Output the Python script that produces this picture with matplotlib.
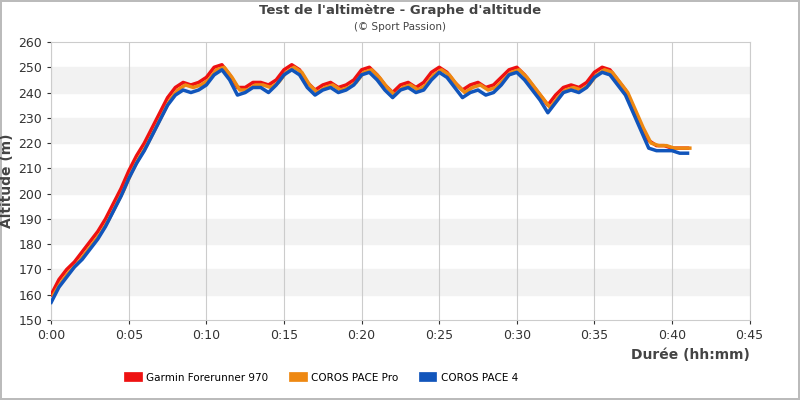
import matplotlib
matplotlib.use("Agg")
import matplotlib.pyplot as plt
import numpy as np

minutes = [i*0.5 for i in range(83)]
garmin = [160,166,170,173,177,181,185,190,196,202,209,215,220,226,232,238,242,244,243,244,246,250,251,247,242,242,244,244,243,245,249,251,249,244,241,243,244,242,243,245,249,250,247,243,240,243,244,242,244,248,250,248,244,241,243,244,242,243,246,249,250,247,243,239,235,239,242,243,242,244,248,250,249,245,241,234,227,221,219,219,218,218,218]
coros_pro = [160,165,169,172,176,180,184,189,195,201,208,214,219,225,231,237,241,243,242,243,245,249,250,246,241,241,243,243,242,244,248,250,248,243,240,242,243,241,242,244,248,249,246,242,239,242,243,241,243,247,249,247,243,240,242,243,241,242,245,248,249,246,242,238,234,238,241,242,241,243,247,249,248,244,240,233,226,220,219,219,218,218,218]
coros_4 = [157,163,167,171,174,178,182,187,193,199,206,212,217,223,229,235,239,241,240,241,243,247,249,245,239,240,242,242,240,243,247,249,247,242,239,241,242,240,241,243,247,248,245,241,238,241,242,240,241,245,248,246,242,238,240,241,239,240,243,247,248,245,241,237,232,236,240,241,240,242,246,248,247,243,239,232,225,218,217,217,217,216,216]

yticks = list(range(150, 261, 10))
xticks = list(range(0, 46, 5))
xlabels = ["0:%02d" % m for m in xticks]

fig = plt.figure(figsize=(8, 4), dpi=100)
fig.patch.set_edgecolor("#bbbbbb"); fig.patch.set_linewidth(1.5)
ax = fig.add_axes([0.064, 0.2, 0.873, 0.695])
for i, y in enumerate(range(150, 260, 10)):
    if i % 2 == 1:
        ax.axhspan(y, y+10, color="#f2f2f2", zorder=0)
for x in xticks:
    ax.axvline(x, color="#cccccc", lw=0.8, zorder=1)
ax.plot(minutes, garmin, color="#ee1111", lw=2.5, zorder=3, label="Garmin Forerunner 970")
ax.plot([m+0.15 for m in minutes], coros_pro, color="#ee8811", lw=2.5, zorder=4, label="COROS PACE Pro")
ax.plot(minutes, coros_4, color="#1155bb", lw=2.5, zorder=5, label="COROS PACE 4")
ax.set_xlim(0, 45); ax.set_ylim(150, 260)
ax.set_xticks(xticks); ax.set_xticklabels(xlabels, fontsize=9)
ax.set_yticks(yticks); ax.tick_params(labelsize=9, length=3, colors="#333333")
for s in ax.spines.values(): s.set_color("#cccccc")
ax.set_ylabel("Altitude (m)", fontsize=10, fontweight="bold", color="#444444", labelpad=3)
ax.text(1.0, -0.1, "Durée (hh:mm)", transform=ax.transAxes, ha="right", va="top", fontsize=10, fontweight="bold", color="#444444")
fig.text(0.5, 0.99, "Test de l'altimètre - Graphe d'altitude", ha="center", va="top", fontsize=9.5, fontweight="bold", color="#444444")
fig.text(0.5, 0.945, "(© Sport Passion)", ha="center", va="top", fontsize=7.5, color="#444444")
fig.legend(loc="lower left", bbox_to_anchor=(0.15, 0.02), ncol=3, frameon=False, fontsize=7.5,
           handlelength=0.8, handleheight=1, columnspacing=2.5)
leg = fig.legends[0]
for h in leg.legend_handles:
    h.set_linewidth(7)
fig.savefig("out.png", dpi=100, edgecolor=fig.get_edgecolor())
